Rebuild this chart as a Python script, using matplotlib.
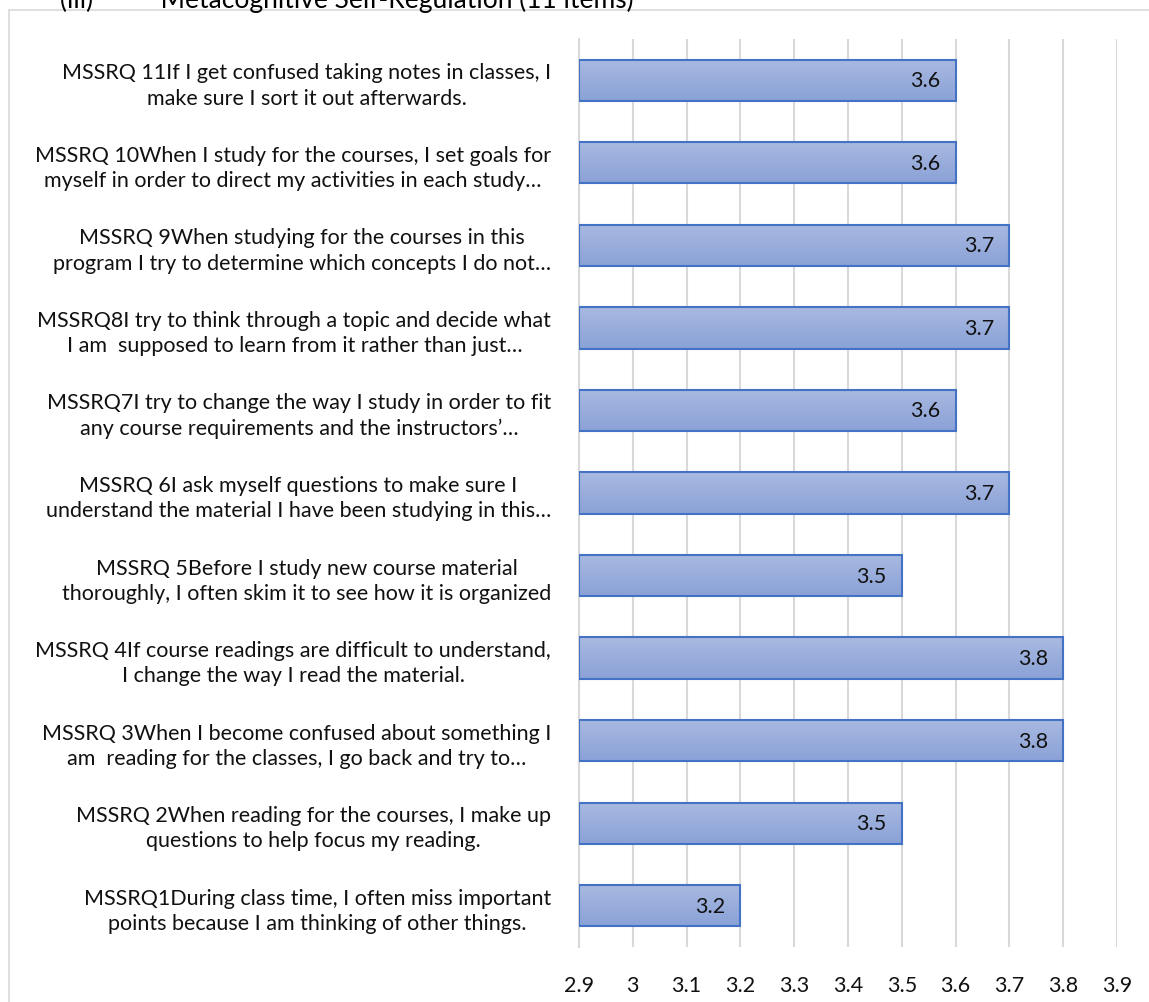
import numpy as np
import matplotlib.pyplot as plt
from matplotlib.patches import Rectangle

# ----------------------------
# Data (bottom to top)
# ----------------------------
items = [
    "MSSRQ1During class time, I often miss important\npoints because I am thinking of other things.",
    "MSSRQ 2When reading for the courses, I make up\nquestions to help focus my reading.",
    "MSSRQ 3When I become confused about something I\nam  reading for the classes, I go back and try to\u2026",
    "MSSRQ 4If course readings are difficult to understand,\nI change the way I read the material.",
    "MSSRQ 5Before I study new course material\nthoroughly, I often skim it to see how it is organized",
    "MSSRQ 6I ask myself questions to make sure I\nunderstand the material I have been studying in this\u2026",
    "MSSRQ7I try to change the way I study in order to fit\nany course requirements and the instructors\u2019\u2026",
    "MSSRQ8I try to think through a topic and decide what\nI am  supposed to learn from it rather than just\u2026",
    "MSSRQ 9When studying for the courses in this\nprogram I try to determine which concepts I do not\u2026",
    "MSSRQ 10When I study for the courses, I set goals for\nmyself in order to direct my activities in each study\u2026",
    "MSSRQ 11If I get confused taking notes in classes, I\nmake sure I sort it out afterwards.",
]
means = [3.2, 3.5, 3.8, 3.8, 3.5, 3.7, 3.6, 3.7, 3.7, 3.6, 3.6]
x_ticks = [2.9, 3.0, 3.1, 3.2, 3.3, 3.4, 3.5, 3.6, 3.7, 3.8, 3.9]
x_tick_labels = ["2.9", "3", "3.1", "3.2", "3.3", "3.4", "3.5", "3.6", "3.7", "3.8", "3.9"]
title = "(iii)          Metacognitive Self-Regulation (11 items)"

plt.rcParams['font.family'] = ['Lato', 'DejaVu Sans']

W, H = 1149, 1003
fig = plt.figure(figsize=(W / 100, H / 100), dpi=100)

# chart frame (cut off on the right and bottom)
fig.patches.append(Rectangle((9 / W, -0.1), 1.2, 1 - 11 / H + 0.1,
                             transform=fig.transFigure, fill=False,
                             edgecolor="#d9d9d9", linewidth=1.2))
fig.text(60 / W, 1 - 8 / H, title, fontsize=19, va="baseline", ha="left", color="black")

ax = fig.add_axes([579 / W, 1 - 948 / H, 538 / W, 908 / H])

y = np.arange(len(items))
base = x_ticks[0]
bars = ax.barh(y, [m - base for m in means], left=base, height=0.5,
               color="#9cb0de", edgecolor="#4472c4", linewidth=1.5, zorder=3)

# vertical gradient fill on each bar
grad = np.linspace(0, 1, 64).reshape(-1, 1)
cmap = plt.matplotlib.colors.LinearSegmentedColormap.from_list("g", ["#a9b9e1", "#8aa2d7"])
for b in bars:
    x0, y0 = b.get_x(), b.get_y()
    im = ax.imshow(grad, aspect="auto", cmap=cmap, origin="lower",
                   extent=(x0, x0 + b.get_width(), y0 + b.get_height(), y0), zorder=3.5)
    im.set_clip_path(b)
    b.set_facecolor("none")
    b.set_zorder(4)

for yi, m in zip(y, means):
    ax.annotate(f"{m:.1f}", (m, yi), xytext=(-15, 0), textcoords="offset pixels",
                ha="right", va="center", fontsize=15.5, color="#111111", zorder=5)

ax.set_xlim(x_ticks[0], x_ticks[-1])
ax.set_ylim(-0.5, len(items) - 0.5)
ax.set_xticks(x_ticks)
ax.set_xticklabels(x_tick_labels, fontsize=15.5, color="#111111")
ax.set_yticks(y)
ax.set_yticklabels(items, fontsize=15.5, color="#111111", linespacing=1.33)
for lab in ax.get_yticklabels():
    lab.set_multialignment("center")

ax.tick_params(axis="both", length=0)
ax.tick_params(axis="y", pad=20)
ax.tick_params(axis="x", pad=20)
ax.grid(axis="x", color="#d9d9d9", linewidth=1.5, zorder=0)
ax.set_axisbelow(True)
for side in ["top", "right", "bottom"]:
    ax.spines[side].set_visible(False)
ax.spines["left"].set_color("#d9d9d9")
ax.spines["left"].set_linewidth(1.5)

fig.savefig("out.png", dpi=100)
